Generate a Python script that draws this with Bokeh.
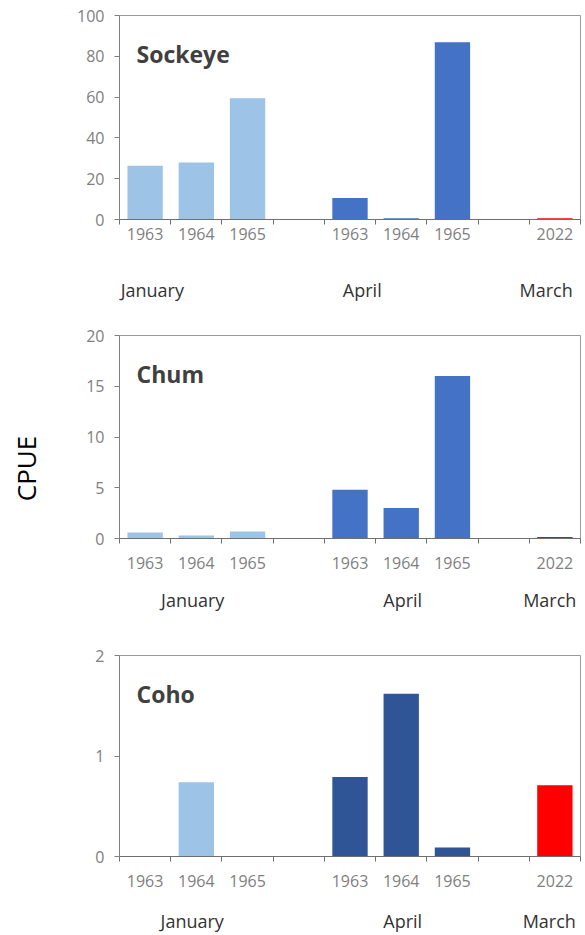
import math

from bokeh.plotting import figure
from bokeh.layouts import column, row
from bokeh.models import Range1d, FixedTicker, LinearAxis, Label, ColumnDataSource
from bokeh.core.properties import value
from bokeh.embed import file_html
from bokeh.resources import INLINE

# Sampling periods: one bar per year, grouped by month of survey
years = ["1963", "1964", "1965", "1963", "1964", "1965", "2022"]
slot = [0, 1, 2, 4, 5, 6, 8]
season = ["January", "January", "January", "April", "April", "April", "March"]
months = ["January", "April", "March"]

# Catch per unit effort by species
sockeye = [26.3, 28.0, 59.4, 10.6, 0.6, 86.9, 0.6]
chum = [0.6, 0.3, 0.7, 4.8, 3.0, 16.0, 0.15]
coho = [0.0, 0.74, 0.0, 0.79, 1.62, 0.09, 0.71]

sockeye_ticks = [0, 20, 40, 60, 80, 100]
chum_ticks = [0, 5, 10, 15, 20]
coho_ticks = [0, 1, 2]

FONT = "Open Sans"
GREY = "#808080"
JAN = "#9dc3e6"
MAR = "#ff0000"
STRIP = 50  # width of the strip holding the shared y-axis title


def panel(name, values, yticks, apr_color, height, b_top, b_bottom, b_left, b_right,
          year_standoff, month_pos, month_standoff):
    colors = [JAN if s == "January" else (apr_color if s == "April" else MAR) for s in season]
    src = ColumnDataSource(dict(x=slot, top=values, color=colors, year=years))

    p = figure(width=585 - STRIP, height=height, output_backend="svg", toolbar_location=None,
               x_range=Range1d(-0.5, 8.5), y_range=Range1d(yticks[0], yticks[-1]),
               min_border_top=b_top, min_border_bottom=b_bottom,
               min_border_left=b_left - STRIP, min_border_right=b_right)
    p.xgrid.grid_line_color = None
    p.ygrid.grid_line_color = None
    p.outline_line_color = "#9a9a9a"
    p.background_fill_color = "white"
    p.border_fill_color = "white"

    p.vbar(x="x", top="top", width=0.69, fill_color="color", line_color=None, source=src)

    # y axis
    ya = p.yaxis[0]
    ya.ticker = FixedTicker(ticks=yticks)
    ya.axis_line_color = GREY
    ya.major_tick_line_color = GREY
    ya.major_tick_out = 5
    ya.major_tick_in = 0
    ya.minor_tick_line_color = None
    ya.major_label_standoff = 10
    ya.major_label_text_font = FONT
    ya.major_label_text_font_size = "16px"
    ya.major_label_text_color = GREY

    # year axis: labels centred on bars, tick marks on slot boundaries
    xa = p.xaxis[0]
    xa.ticker = FixedTicker(ticks=slot, minor_ticks=[i - 0.5 for i in range(10)])
    xa.major_label_overrides = {s: y for s, y in zip(slot, years)}
    xa.axis_line_color = "#6f6f6f"
    xa.major_tick_line_color = None
    xa.major_tick_out = 0
    xa.major_tick_in = 0
    xa.minor_tick_line_color = "#6f6f6f"
    xa.minor_tick_out = 5
    xa.minor_tick_in = 0
    xa.major_label_standoff = year_standoff
    xa.major_label_text_font = FONT
    xa.major_label_text_font_size = "16px"
    xa.major_label_text_color = GREY

    # month axis
    ma = LinearAxis(ticker=FixedTicker(ticks=month_pos),
                    major_label_overrides={m: t for m, t in zip(month_pos, months)})
    ma.axis_line_color = None
    ma.major_tick_line_color = None
    ma.minor_tick_line_color = None
    ma.major_tick_out = 0
    ma.major_tick_in = 0
    ma.major_label_standoff = month_standoff
    ma.major_label_text_font = FONT
    ma.major_label_text_font_size = "18px"
    ma.major_label_text_color = "#333333"
    p.add_layout(ma, "below")

    p.add_layout(Label(x=-0.5, y=yticks[-1], x_offset=17, y_offset=-38, text=name,
                       text_baseline="alphabetic", text_font=FONT, text_font_size="23px",
                       text_font_style="bold", text_color="#404040"))
    return p


p1 = panel("Sockeye", sockeye, sockeye_ticks, "#4472c4", 320, 15, 101, 118, 1,
           3, [0.14, 4.24, 7.83], 35)
p2 = panel("Chum", chum, chum_ticks, "#4472c4", 315, 15, 97, 113, 5,
           13, [0.93, 5.03, 7.9], 16)
p3 = panel("Coho", coho, coho_ticks, "#2f5597", 300, 20, 77, 119, 0,
           13, [0.92, 5.03, 7.89], 19)

# shared y-axis title in a narrow strip to the left of the panels
strip = figure(width=STRIP, height=935, output_backend="svg", toolbar_location=None,
               x_range=Range1d(0, STRIP), y_range=Range1d(0, 935),
               x_axis_location=None, y_axis_location=None,
               min_border=0, min_border_left=0, min_border_right=0,
               min_border_top=0, min_border_bottom=0)
strip.outline_line_color = None
strip.xgrid.grid_line_color = None
strip.ygrid.grid_line_color = None
strip.text(x=[25], y=[935 - 468], text=["CPUE"], angle=math.pi / 2,
           text_align="center", text_baseline="middle", text_font=value(FONT),
           text_font_size="26px", text_color="#000000")

layout = row(strip, column(p1, p2, p3, spacing=0), spacing=0)
open("out.html", "w").write(file_html(layout, INLINE))
